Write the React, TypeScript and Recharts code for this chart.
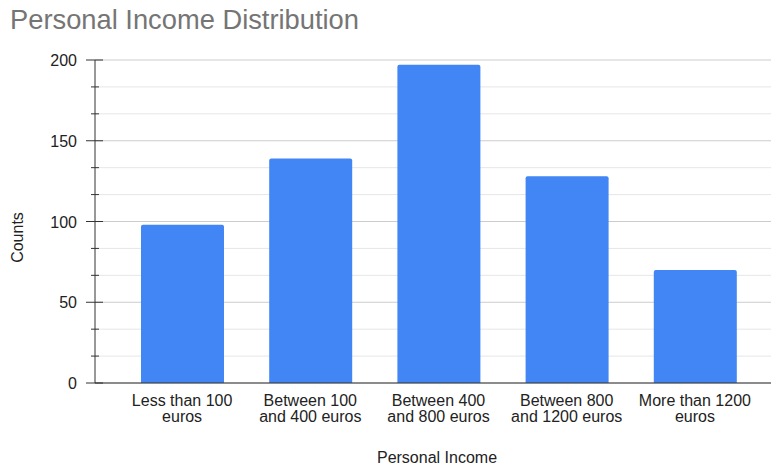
import { BarChart, Bar, XAxis, YAxis, CartesianGrid } from 'recharts'

const CATEGORIES = [
  'Less than 100\neuros',
  'Between 100\nand 400 euros',
  'Between 400\nand 800 euros',
  'Between 800\nand 1200 euros',
  'More than 1200\neuros',
]
const COUNTS = [98, 139, 197, 128, 70]
const MAJOR_TICKS = [0, 50, 100, 150, 200]
const MINOR_PER_MAJOR = 2

const FONT = '"Liberation Sans", Arial, sans-serif'

const data = CATEGORIES.map((label, i) => ({ label, counts: COUNTS[i] }))

// every major tick plus the minor ticks between them
const allTicks: number[] = []
MAJOR_TICKS.forEach((v, i) => {
  allTicks.push(v)
  const next = MAJOR_TICKS[i + 1]
  if (next === undefined) return
  for (let k = 1; k <= MINOR_PER_MAJOR; k++) {
    allTicks.push(v + ((next - v) * k) / (MINOR_PER_MAJOR + 1))
  }
})

const isMajor = (v: number) => MAJOR_TICKS.some((m) => Math.abs(m - v) < 1e-6)

if (typeof document !== 'undefined') document.body.style.margin = '0'

function YTick({ x, y, payload }: any) {
  const major = isMajor(payload.value)
  return (
    <g>
      <line x1={major ? x - 9 : x - 4} x2={major ? x + 8 : x + 4} y1={y} y2={y} stroke="#333" />
      {major && (
        <text x={x - 18} y={y} dy={6} textAnchor="end" fontSize={16} fontFamily={FONT} fill="#222">
          {payload.value}
        </text>
      )}
    </g>
  )
}

function XTick({ x, y, payload }: any) {
  const lines = String(payload.value).split('\n')
  return (
    <text x={x} y={y + 23} textAnchor="middle" fontSize={16} fontFamily={FONT} fill="#222">
      {lines.map((l, i) => (
        <tspan key={i} x={x} dy={i === 0 ? 0 : 16}>
          {l}
        </tspan>
      ))}
    </text>
  )
}

// major grid lines a shade darker than the minor ones
function GridLine(props: any) {
  const { x1, x2, y1, y2, index } = props
  const major = index % (MINOR_PER_MAJOR + 1) === 0
  return <line x1={x1} x2={x2} y1={y1} y2={y2} stroke={major ? '#cccccc' : '#e6e6e6'} strokeWidth={1} />
}

export default function App() {
  return (
    <div style={{ position: 'relative', width: 771, height: 467, background: '#fff' }}>
      <div
        style={{
          position: 'absolute',
          left: 10,
          top: 6,
          fontFamily: FONT,
          fontSize: 27.3,
          lineHeight: '27px',
          color: '#757575',
        }}
      >
        Personal Income Distribution
      </div>
      <BarChart width={771} height={467} data={data} margin={{ top: 60, right: 0, left: 0, bottom: 0 }}>
        <CartesianGrid vertical={false} horizontal={(p: any) => <GridLine {...p} />} />
        <XAxis
          dataKey="label"
          height={84}
          padding={{ left: 23, right: 12 }}
          axisLine={{ stroke: '#333' }}
          tickLine={false}
          tickSize={0}
          tickMargin={0}
          interval={0}
          tick={<XTick />}
          label={{
            value: 'Personal Income',
            position: 'insideBottom',
            offset: 4,
            dx: 4,
            style: { fontSize: 16, fontFamily: FONT, fill: '#222' },
          }}
        />
        <YAxis
          width={95}
          domain={[0, 200]}
          ticks={allTicks}
          interval={0}
          axisLine={{ stroke: '#333' }}
          tickLine={false}
          tickSize={0}
          tickMargin={0}
          tick={<YTick />}
          label={{
            content: ({ viewBox }: any) => {
              const cx = viewBox.x + 23
              const cy = viewBox.y + viewBox.height / 2 + 16
              return (
                <text
                  x={cx}
                  y={cy}
                  transform={`rotate(-90 ${cx} ${cy})`}
                  textAnchor="middle"
                  fontSize={16}
                  fontFamily={FONT}
                  fill="#222"
                >
                  Counts
                </text>
              )
            },
          }}
        />
        <Bar dataKey="counts" fill="#4285F4" barSize={83} radius={[2, 2, 0, 0]} isAnimationActive={false} />
      </BarChart>
    </div>
  )
}
